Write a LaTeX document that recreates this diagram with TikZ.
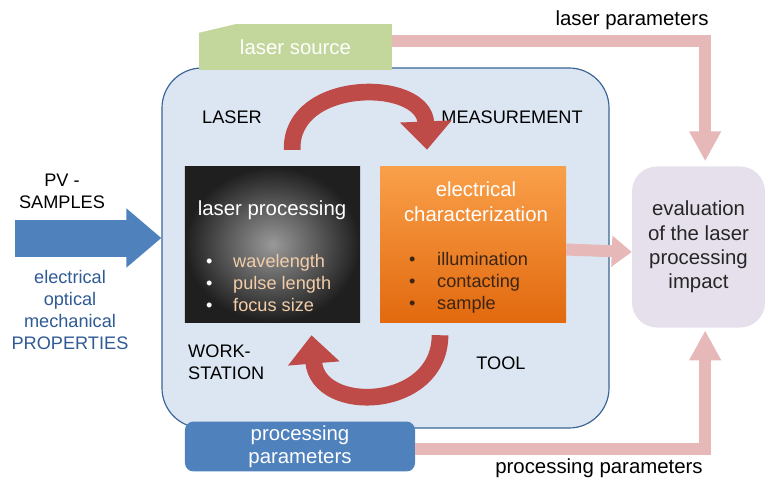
\documentclass[tikz,border=0pt]{standalone}
\usepackage{fontspec}
\setmainfont{Liberation Sans}
\usetikzlibrary{arrows.meta}
\definecolor{wsblue}{HTML}{DCE6F2}
\definecolor{wsline}{HTML}{3A6496}
\definecolor{srcgreen}{HTML}{C3D69B}
\definecolor{parpink}{HTML}{E6B9B8}
\definecolor{ppblue}{HTML}{4F81BD}
\definecolor{cycred}{HTML}{BE4B48}
\definecolor{evallav}{HTML}{E6E0EC}
\definecolor{proptext}{HTML}{2F5A93}
\definecolor{lptext}{HTML}{F2CDA8}
\definecolor{ectext}{HTML}{3B2412}
\definecolor{ectop}{HTML}{F9A04A}
\definecolor{ecbot}{HTML}{E2690E}

\begin{document}
\begin{tikzpicture}[x=0.03cm,y=-0.03cm,
  big/.style={font=\fontsize{17.4}{21}\selectfont},
  small/.style={font=\fontsize{15.5}{18.7}\selectfont},
  cycarrow/.style={draw=cycred,line width=0.5cm,-{Triangle[length=0.85cm,width=1.5cm]}},
  pararrow/.style={draw=parpink,line width=0.36cm,-{Triangle[length=0.9cm,width=0.9cm]}}]
  \useasboundingbox (0,0) rectangle (765,480);
  \node[fill=wsblue,draw=wsline,line width=1pt,rounded corners=1.2cm,minimum width=13.41cm,minimum height=10.8cm] (ws) at (385.5,248) {};
  \node[fill=srcgreen,text=white,big,minimum width=5.79cm,minimum height=1.38cm] (src) at (295.5,47) {\raisebox{-0.15cm}{laser source}};
  \fill[white] (src.north west) -- ([xshift=1.14cm]src.north west) -- ([yshift=-0.27cm]src.north west) -- cycle;
  \node[fill=ppblue,text=white,font=\fontsize{17.4}{19.6}\selectfont,align=center,rounded corners=0.25cm,minimum width=6.9cm,minimum height=1.41cm] (pp) at (300,446.5) {processing\\parameters};
  \node[fill=evallav,text=black!85,font=\fontsize{17.4}{20.8}\selectfont,align=center,rounded corners=0.75cm,minimum width=3.99cm,minimum height=4.83cm] (eval) at (698.5,247) {evaluation\\of the laser\\processing\\impact};
  \node[inner color=black!40,outer color=black!88,minimum width=5.25cm,minimum height=4.65cm] (lp) at (272.5,244.5) {};
  \node[top color=ectop,bottom color=ecbot,minimum width=5.58cm,minimum height=4.65cm] (ec) at (473,244.5) {};

  \node[big,text=white] (lptitle) at (272,210) {laser processing};
  \node[small,text=lptext,align=left,anchor=west,inner sep=0] (lpitems) at (206,283) {\makebox[0.81cm][l]{\textcolor{white}{\textbullet}}wavelength\\\makebox[0.81cm][l]{\textcolor{white}{\textbullet}}pulse length\\\makebox[0.81cm][l]{\textcolor{white}{\textbullet}}focus size};
  \node[big,text=white,align=center] (ectitle) at (476,202) {electrical\\characterization};
  \node[small,text=ectext,align=left,anchor=west,inner sep=0] (ecitems) at (409,283) {\makebox[0.84cm][l]{\textbullet}illumination\\\makebox[0.84cm][l]{\textbullet}contacting\\\makebox[0.84cm][l]{\textbullet}sample};

  \node[small] (laser) at (232,117) {LASER};
  \node[small] (meas) at (512,117) {MEASUREMENT};
  \node[small,align=left,anchor=west,inner sep=0] (wst) at (188,362) {WORK-\\STATION};
  \node[small] (tool) at (501,363) {TOOL};
  \node[big] (lpar) at (632,20) {laser parameters};
  \node[big] (ppar) at (599,468) {processing parameters};
  \node[small,align=center] (pvs) at (62,191) {PV -\\SAMPLES};
  \node[small,align=center,text=proptext] (props) at (70,310) {electrical\\optical\\mechanical\\PROPERTIES};

  \coordinate (pv) at (15,238);
  \draw[ppblue,line width=1.11cm,-{Triangle[length=1.05cm,width=1.71cm]}] (pv) -- (pv -| ws.west);
  \draw[pararrow] ([yshift=0.18cm]src.east) -| ([xshift=0.2cm,yshift=0.15cm]eval.north);
  \draw[pararrow,-{Triangle[length=0.6cm,width=0.9cm]}] ([yshift=-0.15cm]ec.east) -- ([yshift=-0.15cm]eval.west);
  \draw[pararrow] ([yshift=-0.08cm]pp.east) -| ([xshift=0.2cm,yshift=-0.08cm]eval.south);
  \draw[cycarrow] ([xshift=0.59cm,yshift=0.51cm]lp.north) .. controls (290,78) and (424,78) .. ([xshift=-1.38cm,yshift=0.51cm]ec.north);
  \draw[cycarrow] ([xshift=-0.99cm,yshift=-0.39cm]ec.south) .. controls (440,410) and (318,415) .. ([xshift=1.17cm,yshift=-0.39cm]lp.south);
\end{tikzpicture}
\end{document}
